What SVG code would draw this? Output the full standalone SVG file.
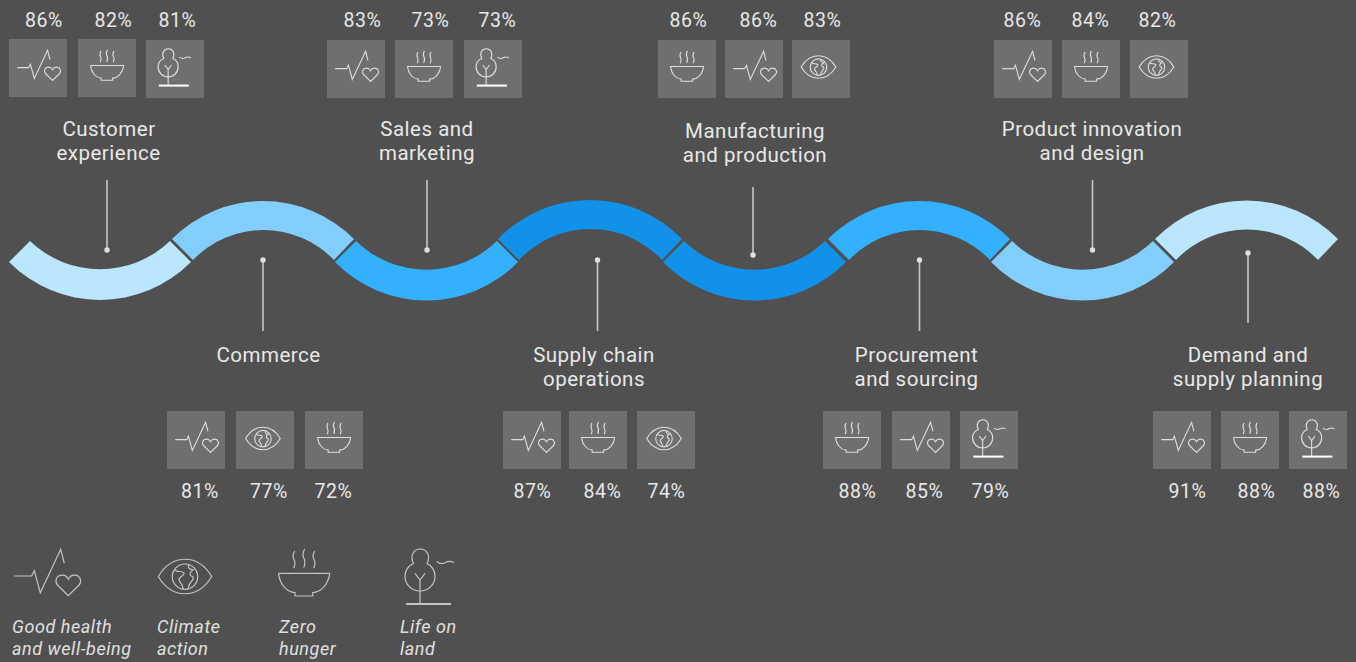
<svg xmlns="http://www.w3.org/2000/svg" width="1356" height="662" viewBox="0 0 1356 662">
<style>
text{font-family:"Roboto","Liberation Sans",sans-serif;fill:#e8e8e8}
.l{font-size:20.5px;letter-spacing:.5px;text-anchor:middle}
.p{font-size:19.5px;letter-spacing:.6px;text-anchor:middle}
.k{font-size:18px;letter-spacing:.55px;font-style:italic;fill:#e0e0e0}
.b{fill:#6f6f6f}
.i{fill:none;stroke:#dedede;stroke-width:1.7;stroke-linejoin:miter;--g:#ffffff;--w:3}
.k1{fill:none;stroke:#c4c4c4;stroke-width:1.2}
.c{stroke:#c6c6c6;stroke-width:1.6}
.d{fill:#e0e0e0}
.t{stroke:var(--g,#c4c4c4);stroke-width:var(--w,1.9)}
</style>
<defs>
<g id="pulse" transform="translate(-47.5,-573)"><path d="M14 576H31.7L34.3 570.7L40.3 592.7L60.7 549.3L64.3 563.3"/><path d="M68.3 595.7L57.5 585C54.5 581.5 56 575.5 62 575.2C65 575 67 576.8 68.3 579.3C69.6 576.8 71.6 575 74.6 575.2C80.6 575.5 82.1 581.5 79.1 585Z"/></g>
<g id="eye" transform="translate(-185,-576.5)"><path d="M158.3 576.5C172 553.5 198 553.5 211.7 576.5C198 599.5 172 599.5 158.3 576.5Z"/><circle cx="185" cy="576.7" r="12.7"/><path d="M174.500 570C178 573 181 570 184 573C185 576 179 576 179 580C180 583 183 584 183 589M189 564.800C187 568 190 569 193 570C190 572 189 574 191 576C194 576 194 579 191 582C189 584 189 586 188 589"/></g>
<g id="bowl" transform="translate(-304,-572.5)"><path d="M278.3 573.3H330"/><path d="M278.5 573.3C280 585 287 592 295 592.7V596H312.7V592.7C321 592 328 585 329.8 573.3"/><path d="M294.7 551C292.500 555 292.500 557 294 559.500C295.500 562 295 565 293.700 568.300M304.700 549C302.500 553 302.500 556 304 558.500C305.500 561 305 564 303.700 567.500M314.700 551C312.500 555 312.500 557 314 559.500C315.500 562 315 565 313.700 568.300"/></g>
<g id="tree" transform="translate(-429.5,-577)"><path d="M413.500 563.500C409.500 555.500 414 549 420.300 549C426.500 549 431 555.500 427 563.500C431.500 565.500 435 570.500 435 576C435 584.500 428.500 591 420 591C411.500 591 405 584.500 405 576C405 570.500 408.500 565.500 413.500 563.500Z"/><path d="M420 604V580M415 573.300L420 580L425 573.300"/><path d="M436.700 561.500C440 564 443 564 445.500 562.500C448 561 451 561 454 562.500"/><path class="t" d="M406 604H451"/></g>
</defs>
<rect width="1356" height="662" fill="#505050"/>

<g id="connectors">
<path class="c" d="M107 180V250M263 260V331M427 180V250M597.500 260V331M753 187V255M919.500 260V331M1092.500 180V250M1248 253V323"/>
<circle class="d" cx="107" cy="250" r="2.700"/><circle class="d" cx="263" cy="260" r="2.700"/><circle class="d" cx="427" cy="250" r="2.700"/><circle class="d" cx="597.500" cy="260" r="2.700"/><circle class="d" cx="753" cy="255" r="2.700"/><circle class="d" cx="919.500" cy="260" r="2.700"/><circle class="d" cx="1092.500" cy="250" r="2.700"/><circle class="d" cx="1248" cy="253" r="2.700"/>
</g>

<g id="customer-experience">
<path fill="#bae6ff" d="M9 262A128 128 0 0 0 191 262L170 241A101 101 0 0 1 30 241Z"/>
<text class="l" x="109" y="136">Customer</text><text class="l" x="108.500" y="160">experience</text>
<rect class="b" x="9" y="39" width="58" height="58"/><rect class="b" x="78" y="39" width="58" height="58"/><rect class="b" x="146" y="40" width="58" height="58"/>
<g class="i"><use href="#pulse" transform="translate(39,65.700) scale(.65)"/><use href="#bowl" transform="translate(107,65) scale(.65)"/><use href="#tree" transform="translate(174.500,67.500) scale(.67)"/></g>
<text class="p" x="44" y="27">86%</text><text class="p" x="113.500" y="27">82%</text><text class="p" x="177.500" y="27">81%</text>
</g>

<g id="commerce">
<path fill="#82cfff" d="M172 239A128 128 0 0 1 354 239L334 260A98 98 0 0 0 193 260Z"/>
<text class="l" x="268.500" y="362">Commerce</text>
<rect class="b" x="167" y="411" width="58" height="58"/><rect class="b" x="236" y="411" width="58" height="58"/><rect class="b" x="305" y="411" width="58" height="58"/>
<g class="i"><use href="#pulse" transform="translate(197,437.700) scale(.65)"/><use href="#eye" transform="translate(263,438.500) scale(.65)"/><use href="#bowl" transform="translate(334,437) scale(.65)"/></g>
<text class="p" x="200" y="498">81%</text><text class="p" x="269" y="498">77%</text><text class="p" x="333.500" y="498">72%</text>
</g>

<g id="sales-and-marketing">
<path fill="#33b1ff" d="M335 262A128 128 0 0 0 518 262L497 241A101 101 0 0 1 356 241Z"/>
<text class="l" x="427" y="136">Sales and</text><text class="l" x="427" y="160">marketing</text>
<rect class="b" x="327" y="40" width="58" height="58"/><rect class="b" x="395" y="40" width="58" height="58"/><rect class="b" x="464" y="40" width="58" height="58"/>
<g class="i"><use href="#pulse" transform="translate(357,66.700) scale(.65)"/><use href="#bowl" transform="translate(424,66) scale(.65)"/><use href="#tree" transform="translate(492.500,67.500) scale(.67)"/></g>
<text class="p" x="362.500" y="27">83%</text><text class="p" x="430.500" y="27">73%</text><text class="p" x="497.500" y="27">73%</text>
</g>

<g id="supply-chain-operations">
<path fill="#1192e8" d="M498 239A128 128 0 0 1 682 239L662 260A98 98 0 0 0 519 260Z"/>
<text class="l" x="594" y="362">Supply chain</text><text class="l" x="594" y="386">operations</text>
<rect class="b" x="503" y="411" width="58" height="58"/><rect class="b" x="569" y="411" width="58" height="58"/><rect class="b" x="637" y="411" width="58" height="58"/>
<g class="i"><use href="#pulse" transform="translate(533,437.700) scale(.65)"/><use href="#bowl" transform="translate(598,437) scale(.65)"/><use href="#eye" transform="translate(664,438.500) scale(.65)"/></g>
<text class="p" x="532.500" y="498">87%</text><text class="p" x="602.500" y="498">84%</text><text class="p" x="666.500" y="498">74%</text>
</g>

<g id="manufacturing-and-production">
<path fill="#1192e8" d="M663 262A128 128 0 0 0 846 262L825 241A101 101 0 0 1 684 241Z"/>
<text class="l" x="755" y="138">Manufacturing</text><text class="l" x="755" y="162">and production</text>
<rect class="b" x="658" y="40" width="58" height="58"/><rect class="b" x="725" y="40" width="58" height="58"/><rect class="b" x="792" y="40" width="58" height="58"/>
<g class="i"><use href="#bowl" transform="translate(687,66) scale(.65)"/><use href="#pulse" transform="translate(755,66.700) scale(.65)"/><use href="#eye" transform="translate(818.500,67) scale(.65)"/></g>
<text class="p" x="688.500" y="27">86%</text><text class="p" x="758.500" y="27">86%</text><text class="p" x="822.500" y="27">83%</text>
</g>

<g id="procurement-and-sourcing">
<path fill="#33b1ff" d="M828 239A128 128 0 0 1 1010 239L990 260A98 98 0 0 0 849 260Z"/>
<text class="l" x="916.500" y="362">Procurement</text><text class="l" x="916.500" y="386">and sourcing</text>
<rect class="b" x="823" y="411" width="58" height="58"/><rect class="b" x="892" y="411" width="58" height="58"/><rect class="b" x="960" y="411" width="58" height="58"/>
<g class="i"><use href="#bowl" transform="translate(852,437) scale(.65)"/><use href="#pulse" transform="translate(922,437.700) scale(.65)"/><use href="#tree" transform="translate(989,438.500) scale(.67)"/></g>
<text class="p" x="857.500" y="498">88%</text><text class="p" x="924.500" y="498">85%</text><text class="p" x="990.500" y="498">79%</text>
</g>

<g id="product-innovation-and-design">
<path fill="#82cfff" d="M991 262A128 128 0 0 0 1174 262L1153 241A101 101 0 0 1 1012 241Z"/>
<text class="l" x="1092" y="136">Product innovation</text><text class="l" x="1092" y="160">and design</text>
<rect class="b" x="994" y="40" width="58" height="58"/><rect class="b" x="1062" y="40" width="58" height="58"/><rect class="b" x="1130" y="40" width="58" height="58"/>
<g class="i"><use href="#pulse" transform="translate(1024,66.700) scale(.65)"/><use href="#bowl" transform="translate(1091,66) scale(.65)"/><use href="#eye" transform="translate(1156.500,67) scale(.65)"/></g>
<text class="p" x="1022.500" y="27">86%</text><text class="p" x="1090.500" y="27">84%</text><text class="p" x="1157.500" y="27">82%</text>
</g>

<g id="demand-and-supply-planning">
<path fill="#bae6ff" d="M1155 239A128 128 0 0 1 1338 239L1318 260A98 98 0 0 0 1176 260Z"/>
<text class="l" x="1248" y="362">Demand and</text><text class="l" x="1248" y="386">supply planning</text>
<rect class="b" x="1153" y="411" width="58" height="58"/><rect class="b" x="1221" y="411" width="58" height="58"/><rect class="b" x="1289" y="411" width="58" height="58"/>
<g class="i"><use href="#pulse" transform="translate(1183,437.700) scale(.65)"/><use href="#bowl" transform="translate(1250,437) scale(.65)"/><use href="#tree" transform="translate(1318,438.500) scale(.67)"/></g>
<text class="p" x="1187.500" y="498">91%</text><text class="p" x="1256.500" y="498">88%</text><text class="p" x="1321.500" y="498">88%</text>
</g>

<g id="legend-health"><use class="k1" href="#pulse" transform="translate(47.500,573)"/><text class="k" x="12" y="633">Good health</text><text class="k" x="12" y="655">and well-being</text></g>
<g id="legend-climate"><use class="k1" href="#eye" transform="translate(185,576.500)"/><text class="k" x="157" y="633">Climate</text><text class="k" x="157" y="655">action</text></g>
<g id="legend-hunger"><use class="k1" href="#bowl" transform="translate(304,572.500)"/><text class="k" x="279" y="633">Zero</text><text class="k" x="279" y="655">hunger</text></g>
<g id="legend-land"><use class="k1" href="#tree" transform="translate(429.500,577)"/><text class="k" x="400" y="633">Life on</text><text class="k" x="400" y="655">land</text></g>
</svg>
